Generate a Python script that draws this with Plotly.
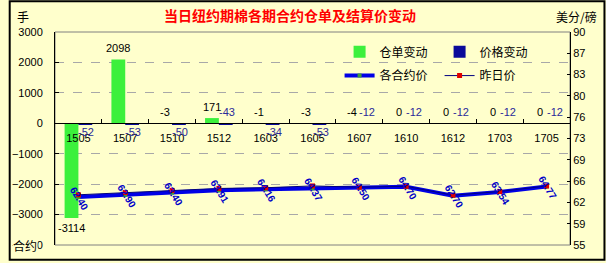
import plotly.graph_objects as go

# ---------------- data ----------------
categories = ['1505', '1507', '1510', '1512', '1603', '1605', '1607', '1610', '1612', '1703', '1705']
warrant_change = [-3114, 2098, -3, 171, -1, -3, -4, 0, 0, 0, 0]
price_change = [-52, -53, -50, -43, -34, -53, -12, -12, -12, -12, -12]
settle_price = [62.40, 62.90, 63.40, 63.91, 64.16, 64.37, 64.50, 64.70, 62.70, 63.54, 64.77]
prev_price = [62.92, 63.43, 63.90, 64.34, 64.50, 64.90, 64.62, 64.82, 62.82, 63.66, 64.89]
left_ticks = [-4000, -3000, -2000, -1000, 0, 1000, 2000, 3000]
right_ticks = [55, 58.5, 62, 65.5, 69, 72.5, 76, 79.5, 83, 86.5, 90]
right_tick_labels = ['55', '59', '62', '66', '69', '73', '76', '80', '83', '87', '90']

# ---------------- style ----------------
W, H = 606, 263
ML, MR, MT, MB = 47, 36, 32, 16
PW, PH = W - ML - MR, H - MT - MB
BG = '#FFFFCC'
GREEN = '#3CF03C'
NAVY = '#0A0A9A'
LABEL_BLUE = '#2A2A9A'
NUM_FONT = 'Liberation Sans, Arial, sans-serif'
CJK_FONT = 'Noto Sans CJK SC, sans-serif'
LEFT_RANGE = [-4000, 3000]
PRICE_RANGE = [51.7, 99.3]
blue_label_above = [False, False, False, True, False, False, True, True, True, True, True]


def px_x(p):
    return (p - ML) / PW


def px_y(p):
    return (H - MB - p) / PH


fig = go.Figure()
fig.add_bar(x=categories, y=warrant_change, name='仓单变动', legend='legend',
            marker=dict(color=GREEN, line=dict(width=0)))
fig.add_bar(x=categories, y=price_change, name='价格变动', legend='legend',
            marker=dict(color=NAVY, line=dict(width=0)))
fig.add_scatter(x=categories, y=settle_price, yaxis='y3', name='各合约价', legend='legend2',
                mode='lines+markers',
                line=dict(color='#0000E6', width=4),
                marker=dict(color='#3C9A3C', size=4, symbol='square'))
fig.add_scatter(x=categories, y=prev_price, yaxis='y3', name='昨日价', legend='legend2',
                mode='lines+markers',
                line=dict(color='#000080', width=1),
                marker=dict(color='#E00000', size=5, symbol='square'))
# empty trace so that the right-hand price scale is drawn
fig.add_scatter(x=[], y=[], yaxis='y2', showlegend=False, hoverinfo='skip')

annotations = []
for i, v in enumerate(warrant_change):
    big_neg = v < -100
    annotations.append(dict(
        x=i, y=v if (v > 0 or big_neg) else 0, xref='x', yref='y',
        text=str(v), showarrow=False, xshift=-7, xanchor='center',
        yanchor='top' if big_neg else 'bottom', yshift=-2 if big_neg else 3,
        font=dict(family=NUM_FONT, size=11, color='#000000')))
for i, v in enumerate(price_change):
    above = blue_label_above[i]
    annotations.append(dict(
        x=i, y=0, xref='x', yref='y', text=str(v), showarrow=False,
        xshift=8, xanchor='center', yanchor='bottom' if above else 'top',
        yshift=3 if above else -1,
        font=dict(family=NUM_FONT, size=11, color=LABEL_BLUE)))
for i, v in enumerate(settle_price):
    annotations.append(dict(
        x=i, y=v, xref='x', yref='y3', text='<b>%.2f</b>' % v, showarrow=False,
        xanchor='center', yanchor='middle', xshift=1, yshift=-1,
        textangle=58, font=dict(family=NUM_FONT, size=10, color='#0000C8')))
annotations += [
    dict(x=px_x(14), y=px_y(16), xref='paper', yref='paper', text='手', showarrow=False,
         xanchor='center', yanchor='middle',
         font=dict(family=CJK_FONT, size=12, color='#000000')),
    dict(x=px_x(577), y=px_y(16), xref='paper', yref='paper', text='美分/磅', showarrow=False,
         xanchor='center', yanchor='middle',
         font=dict(family=CJK_FONT, size=12, color='#000000')),
    dict(x=px_x(17), y=px_y(247), xref='paper', yref='paper', text='合约', showarrow=False,
         xanchor='center', yanchor='middle', bgcolor=BG, borderpad=0,
         font=dict(family=CJK_FONT, size=12, color='#000000')),
]

shapes = [
    dict(type='rect', xref='paper', yref='paper', x0=0, y0=0, x1=1, y1=1,
         line=dict(color='#808080', width=1), layer='below'),
    dict(type='rect', xref='paper', yref='paper',
         x0=px_x(1), y0=px_y(H - 1), x1=px_x(W - 1), y1=px_y(1),
         line=dict(color='#000000', width=2)),
]

zero_pos = (0 - LEFT_RANGE[0]) / (LEFT_RANGE[1] - LEFT_RANGE[0])

legend_common = dict(orientation='h', xanchor='left', yanchor='middle',
                     entrywidth=55, entrywidthmode='pixels', bgcolor='rgba(0,0,0,0)',
                     font=dict(family=CJK_FONT, size=12, color='#000000'),
                     itemwidth=30, traceorder='normal')

fig.update_layout(
    width=W, height=H,
    margin=dict(l=ML, r=MR, t=MT, b=MB, pad=0),
    paper_bgcolor=BG, plot_bgcolor=BG,
    barmode='group', bargap=0.41, bargroupgap=0,
    title=dict(text='<b>当日纽约期棉各期合约仓单及结算价变动</b>',
               x=290 / W, xanchor='center', y=1 - 16 / H, yanchor='middle',
               font=dict(family=CJK_FONT, size=14, color='#FF0000')),
    xaxis=dict(type='category', categoryorder='array', categoryarray=categories,
               range=[-0.5, len(categories) - 0.5], anchor='free', position=zero_pos,
               showline=True, linecolor='#000000', linewidth=1,
               ticks='inside', tickson='boundaries', ticklen=4, tickcolor='#000000',
               ticklabelstandoff=5,
               showgrid=False, tickfont=dict(family=NUM_FONT, size=11, color='#000000')),
    yaxis=dict(range=LEFT_RANGE, tickvals=left_ticks, showgrid=True,
               gridcolor='#A8A8A8', griddash='dash', gridwidth=1, zeroline=False,
               showline=True, linecolor='#000000', linewidth=1,
               ticks='inside', ticklen=4, tickcolor='#000000', ticklabelstandoff=9,
               tickfont=dict(family=NUM_FONT, size=11, color='#000000')),
    yaxis2=dict(overlaying='y', side='right', range=[55, 90], tickvals=right_ticks,
                ticktext=right_tick_labels, showgrid=False, zeroline=False,
                showline=True, linecolor='#000000', linewidth=1,
                ticks='inside', ticklen=3, tickcolor='#000000', ticklabelstandoff=0,
                tickfont=dict(family=NUM_FONT, size=11, color='#000000')),
    yaxis3=dict(overlaying='y', range=PRICE_RANGE, visible=False),
    legend=dict(x=px_x(336), y=px_y(52), **legend_common),
    legend2=dict(x=px_x(336), y=px_y(76), **legend_common),
    annotations=annotations,
    shapes=shapes,
    showlegend=True,
)

fig.write_html('out.html')
